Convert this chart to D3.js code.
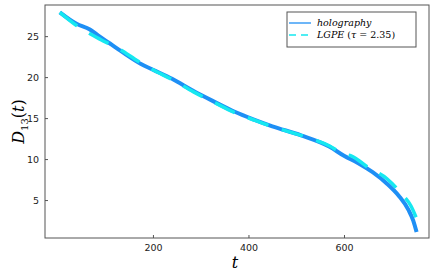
<!DOCTYPE html>
<html>
<head>
<meta charset="utf-8">
<script src="https://d3js.org/d3.v7.min.js"></script>
<style>
  body { margin: 0; background: #fff; }
  svg { display: block; }
</style>
</head>
<body>
<svg width="436" height="273"></svg>
<script>
// holography curve
var holoT = [5, 40, 68, 85, 110, 140, 175, 200, 240, 285, 330, 370, 410, 450, 510, 570, 600, 630, 660, 690, 715, 735, 745, 752];
var holoD = [27.9, 26.5, 25.8, 25.1, 24.1, 22.9, 21.6, 20.9, 19.8, 18.3, 16.95, 15.8, 14.85, 14.0, 12.9, 11.5, 10.4, 9.5, 8.4, 7.0, 5.5, 3.8, 2.5, 1.1];

// LGPE fit (tau = 2.35)
var lgpeT = [5, 40, 65, 90, 130, 170, 200, 240, 285, 330, 370, 410, 450, 510, 570, 600, 615, 650, 690, 720, 740, 755];
var lgpeD = [27.9, 26.3, 25.4, 24.6, 23.4, 21.9, 20.9, 19.7, 18.2, 16.85, 15.7, 14.8, 13.95, 12.9, 11.6, 10.6, 10.4, 9.0, 7.6, 5.8, 4.3, 2.3];

var xTicks = [200, 400, 600];
var yTicks = [5, 10, 15, 20, 25];
var seriesNames = ["holography", "LGPE"];

var svg = d3.select("svg");
var pl = 45, pr = 429, pt = 5, pb = 238;

var x = d3.scaleLinear().domain([-26, 778]).range([pl, pr]);
var y = d3.scaleLinear().domain([0.37, 28.8]).range([pb, pt]);

var frameColor = "#555";

// ticks inside the frame
var xAxis = svg.append("g")
  .attr("transform", "translate(0," + pb + ")")
  .call(d3.axisBottom(x).tickValues(xTicks).tickSize(-3).tickPadding(6));
var yAxis = svg.append("g")
  .attr("transform", "translate(" + pl + ",0)")
  .call(d3.axisLeft(y).tickValues(yTicks).tickSize(-3).tickPadding(6));

[xAxis, yAxis].forEach(function(a) {
  a.select(".domain").remove();
  a.selectAll("line").attr("stroke", frameColor);
  a.selectAll("text")
    .attr("fill", "#222")
    .style("font-family", "DejaVu Sans")
    .style("font-size", "9.5px");
});

svg.append("rect")
  .attr("x", pl).attr("y", pt)
  .attr("width", pr - pl).attr("height", pb - pt)
  .attr("fill", "none")
  .attr("stroke", frameColor)
  .attr("stroke-width", 1);

var line = d3.line()
  .x(function(d) { return x(d[0]); })
  .y(function(d) { return y(d[1]); })
  .curve(d3.curveMonotoneX);

var holo = holoT.map(function(t, i) { return [t, holoD[i]]; });
var lgpe = lgpeT.map(function(t, i) { return [t, lgpeD[i]]; });

svg.append("path")
  .datum(holo)
  .attr("d", line)
  .attr("fill", "none")
  .attr("stroke", "#1e8ff5")
  .attr("stroke-width", 4);

svg.append("path")
  .datum(lgpe)
  .attr("d", line)
  .attr("fill", "none")
  .attr("stroke", "#16e8f0")
  .attr("stroke-width", 3.5)
  .attr("stroke-dasharray", "22,14");

// legend
var lg = svg.append("g");
lg.append("rect")
  .attr("x", 287).attr("y", 12)
  .attr("width", 129).attr("height", 35)
  .attr("fill", "#fff")
  .attr("stroke", frameColor)
  .attr("stroke-width", 1);
lg.append("line")
  .attr("x1", 289).attr("x2", 311).attr("y1", 23).attr("y2", 23)
  .attr("stroke", "#1e8ff5").attr("stroke-width", 1.3);
lg.append("line")
  .attr("x1", 289).attr("x2", 311).attr("y1", 35).attr("y2", 35)
  .attr("stroke", "#16e8f0").attr("stroke-width", 1.3)
  .attr("stroke-dasharray", "7,5");

var legFont = "'DejaVu Serif', 'Liberation Serif', serif";
lg.append("text")
  .attr("x", 317).attr("y", 26)
  .style("font-family", legFont).style("font-style", "italic").style("font-size", "9.5px")
  .text(seriesNames[0]);
var t2 = lg.append("text")
  .attr("x", 317).attr("y", 38)
  .style("font-family", legFont).style("font-size", "9.5px");
t2.append("tspan").style("font-style", "italic").text("LGPE");
t2.append("tspan").text(" (");
t2.append("tspan").style("font-style", "italic").text("τ");
t2.append("tspan").text(" = 2.35)");

// axis titles
svg.append("text")
  .attr("x", (pl + pr) / 2 - 2).attr("y", 268)
  .attr("text-anchor", "middle")
  .style("font-family", legFont).style("font-style", "italic").style("font-size", "16px")
  .text("t");

var yl = svg.append("text")
  .attr("transform", "translate(24," + ((pt + pb) / 2) + ") rotate(-90)")
  .attr("text-anchor", "middle")
  .style("font-family", legFont).style("font-size", "16px");
yl.append("tspan").style("font-style", "italic").text("D");
yl.append("tspan").attr("dy", 4).style("font-size", "10px").text("13");
yl.append("tspan").attr("dy", -4).text("(");
yl.append("tspan").style("font-style", "italic").text("t");
yl.append("tspan").text(")");
</script>
</body>
</html>
